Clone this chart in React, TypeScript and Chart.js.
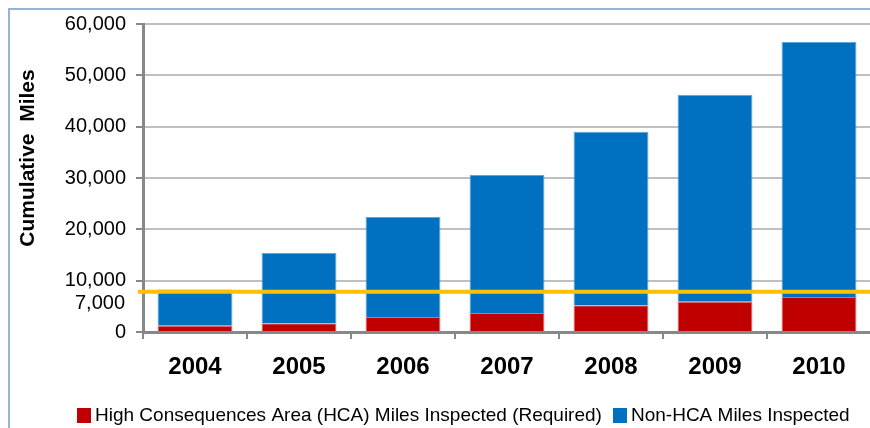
import React, { useEffect, useRef } from "react";
import { Chart, registerables } from "chart.js";

Chart.register(...registerables);

const years = ["2004", "2005", "2006", "2007", "2008", "2009", "2010"];
const hcaMiles = [1200, 1700, 2900, 3700, 5200, 5900, 6800];
const nonHcaMiles = [7100, 13700, 19500, 26900, 33800, 40300, 49700];
const thresholdMiles = 7850;
const thresholdLabel = "7,000";
const thresholdLabelValue = 5650;
const yTitle = "Cumulative  Miles";
const seriesNames = [
  "High Consequences Area (HCA) Miles Inspected (Required)",
  "Non-HCA Miles Inspected",
];
const seriesColors = ["#C00000", "#0070C0"];

const FONT = "'Liberation Sans', Arial, sans-serif";

const extras = {
  id: "extras",
  beforeDraw(chart: any) {
    const ctx = chart.ctx;
    ctx.save();
    ctx.fillStyle = "#ffffff";
    ctx.fillRect(0, 0, chart.width, chart.height);
    ctx.strokeStyle = "#95B3D7";
    ctx.lineWidth = 2;
    ctx.beginPath();
    ctx.moveTo(9, chart.height);
    ctx.lineTo(9, 9);
    ctx.lineTo(chart.width, 9);
    ctx.stroke();
    ctx.restore();
  },
  afterDraw(chart: any) {
    const ctx = chart.ctx;
    const y = chart.scales.y;
    const area = chart.chartArea;
    ctx.save();
    const py = y.getPixelForValue(thresholdMiles);
    ctx.strokeStyle = "#FFC000";
    ctx.lineWidth = 4;
    ctx.beginPath();
    ctx.moveTo(area.left - 5, py);
    ctx.lineTo(chart.width, py);
    ctx.stroke();

    ctx.fillStyle = "#000000";
    ctx.font = `20px ${FONT}`;
    ctx.textAlign = "right";
    ctx.textBaseline = "middle";
    ctx.fillText(thresholdLabel, area.left - 18, y.getPixelForValue(thresholdLabelValue));

    // legend
    const ly = 415;
    const boxStarts = [77, 613];
    ctx.font = `19px ${FONT}`;
    ctx.textAlign = "left";
    chart.data.datasets.forEach((ds: any, i: number) => {
      ctx.fillStyle = seriesColors[i];
      ctx.fillRect(boxStarts[i], ly - 7, 14, 15);
      ctx.fillStyle = "#000";
      ctx.fillText(ds.label, boxStarts[i] + 18, ly + 1);
    });

    ctx.save();
    ctx.translate(28, 158);
    ctx.rotate(-Math.PI / 2);
    ctx.textAlign = "center";
    ctx.font = `bold 21px ${FONT}`;
    ctx.fillText(yTitle, 0, 0);
    ctx.restore();
    ctx.restore();
  },
};

export default function App() {
  const ref = useRef<HTMLCanvasElement>(null);
  useEffect(() => {
    document.body.style.margin = "0";
    document.body.style.overflow = "hidden";
    const chart = new Chart(ref.current!, {
      type: "bar",
      data: {
        labels: years,
        datasets: [
          {
            label: seriesNames[0],
            data: hcaMiles,
            backgroundColor: seriesColors[0],
            borderColor: "#E46C6C",
            borderWidth: 1,
            barPercentage: 0.72,
            categoryPercentage: 1,
          },
          {
            label: seriesNames[1],
            data: nonHcaMiles,
            backgroundColor: seriesColors[1],
            borderColor: "#5FA3DB",
            borderWidth: 1,
            barPercentage: 0.72,
            categoryPercentage: 1,
          },
        ],
      },
      plugins: [extras],
      options: {
        animation: false,
        responsive: false,
        devicePixelRatio: 1,
        layout: { padding: { top: 24, right: 9, left: 0, bottom: 34 } },
        plugins: {
          tooltip: { enabled: false },
          legend: { display: false },
        },
        scales: {
          x: {
            stacked: true,
            afterFit: (s: any) => {
              s.height = 62;
            },
            grid: {
              drawOnChartArea: false,
              drawTicks: true,
              tickLength: 7,
              color: "#888888",
              lineWidth: 2,
            },
            border: { display: true, color: "#888888", width: 3 },
            ticks: {
              color: "#000",
              padding: 14,
              font: { family: FONT, size: 24, weight: "bold" },
            },
          },
          y: {
            stacked: true,
            min: 0,
            max: 60000,
            afterFit: (s: any) => {
              s.width = 143;
            },
            grid: {
              color: "#BFBFBF",
              lineWidth: 2,
              tickLength: 7,
              tickColor: "#888888",
            },
            border: { display: true, color: "#888888", width: 3 },
            ticks: {
              stepSize: 10000,
              color: "#000",
              padding: 10,
              font: { family: FONT, size: 20 },
              callback: (v: any) => Number(v).toLocaleString("en-US"),
            },
          },
        },
      } as any,
    });
    return () => chart.destroy();
  }, []);
  return (
    <div style={{ width: 870, height: 428, overflow: "hidden" }}>
      <canvas ref={ref} width={880} height={428} style={{ display: "block" }} />
    </div>
  );
}
